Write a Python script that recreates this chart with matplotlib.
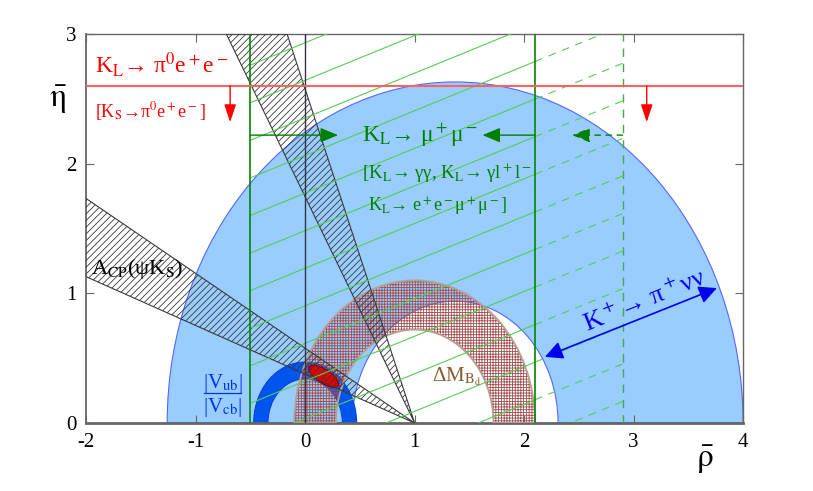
import matplotlib
matplotlib.use('Agg')
import matplotlib.pyplot as plt
from matplotlib.patches import Wedge, Polygon, Ellipse
import numpy as np

plt.rcParams['font.family'] = 'serif'
plt.rcParams['font.serif'] = ['Liberation Serif', 'DejaVu Serif']
plt.rcParams['mathtext.fontset'] = 'stix'
plt.rcParams['axes.unicode_minus'] = False
plt.rcParams['hatch.linewidth'] = 0.6

# axes
rho_range = [-2, 4]
eta_range = [0, 3]
rho_ticks = [-2, -1, 0, 1, 2, 3, 4]
eta_ticks = [0, 1, 2, 3]

# K+ -> pi+ nu nu annulus (centre on rho axis, inner/outer radius)
kpnn_center = 1.37
kpnn_r = [0.94, 2.63]
# |Vub/Vcb| annulus around (0,0)
vub_r = [0.34, 0.47]
# Delta M_Bd annulus around (1,0)
dmd_r = [0.72, 1.10]
# A_CP(psi K_S) wedge, slopes of the two edges seen from (1,0)
acp_slope = [0.376, 0.577]
# steep wedge from (1,0): rho where the edges reach eta = 3
wedge2_rho_top = [-0.72, -0.165]
# fit ellipse
fit_center = [0.17, 0.36]
fit_size = [0.30, 0.11]
fit_angle = -28

# K_L -> pi0 e+ e- bound
klpee_eta = 2.6
klpee_arrow_rho = [-0.685, 3.12]
klpee_arrow_tip = 2.32
# K_L -> mu+ mu- band
klmm_lo = -0.5
klmm_hi = 2.1
klmm_hi_dash = 2.9
klmm_arrow_eta = 2.22
klmm_arrow_tips = [0.30, 1.62, 2.44]
klmm_line_slope = 0.345
klmm_line_step = 0.84
klmm_line_start = 1.58
# K+ arrow ends
kpnn_arrow = [[2.19, 0.51], [3.76, 1.04]]

fig = plt.figure(figsize=(8.13, 4.91), dpi=100)
ax = fig.add_axes([0.106, 0.1385, 0.808, 0.7923])

# K+ -> pi+ nu nu
ax.add_patch(Wedge((kpnn_center, 0), kpnn_r[1], 0, 180, width=kpnn_r[1] - kpnn_r[0],
                   facecolor='#99ccff', edgecolor='#5566ff', lw=0.8, zorder=1))
# |Vub/Vcb|
ax.add_patch(Wedge((0, 0), vub_r[1], 0, 180, width=vub_r[1] - vub_r[0],
                   facecolor='#0055ee', edgecolor='#0044dd', lw=0.8, zorder=2))
# Delta M_Bd (checkered)
ax.add_patch(Wedge((1, 0), dmd_r[1], 0, 180, width=dmd_r[1] - dmd_r[0],
                   facecolor='none', edgecolor='#a05050', hatch='++++++', lw=0, zorder=3))
ax.add_patch(Wedge((1, 0), dmd_r[1], 0, 180, width=dmd_r[1] - dmd_r[0],
                   facecolor='none', edgecolor='#b8a090', lw=1.3, zorder=3))

# fit ellipse
ax.add_patch(Ellipse(fit_center, fit_size[0], fit_size[1], angle=fit_angle,
                     facecolor='#e00000', edgecolor='#880000', lw=0.8, zorder=4))

# A_CP wedge
L = 4.0
acp_pts = [(1, 0), (1 - L, acp_slope[0] * L), (1 - L, acp_slope[1] * L)]
ax.add_patch(Polygon(acp_pts, closed=True, facecolor='none', edgecolor='#3a3a3a',
                     hatch='/////', lw=0.8, zorder=5))
# steep wedge
w2_pts = [(1, 0), (wedge2_rho_top[0], 3), (wedge2_rho_top[1], 3)]
ax.add_patch(Polygon(w2_pts, closed=True, facecolor='none', edgecolor='#3a3a3a',
                     hatch='/////', lw=0.8, zorder=5))

# K_L -> mu mu diagonal lines
rs = np.array([klmm_lo, klmm_hi])
rd = np.array([klmm_hi, klmm_hi_dash])
for k in range(-13, 3):
    r0 = klmm_line_start + k * klmm_line_step
    ax.plot(rs, klmm_line_slope * (rs - r0), color='#55cc55', lw=0.8, zorder=6)
    ax.plot(rd, klmm_line_slope * (rd - r0), color='#55cc55', lw=0.8,
            dashes=(7, 6), zorder=6)

ax.axvline(klmm_lo, color='#008800', lw=1.2, zorder=7)
ax.axvline(klmm_hi, color='#008800', lw=1.2, zorder=7)
ax.axvline(klmm_hi_dash, color='#44aa44', lw=1.0, dashes=(6, 5), zorder=7)
ax.axvline(0, color='#333344', lw=1.0, zorder=7)

# K_L -> pi0 e e line
ax.axhline(klpee_eta, color='#ff6060', lw=1.5, zorder=8)
for r in klpee_arrow_rho:
    ax.annotate('', xy=(r, klpee_arrow_tip), xytext=(r, klpee_eta),
                arrowprops=dict(arrowstyle='-|>,head_length=0.6,head_width=0.2',
                                mutation_scale=18, color='red', lw=1.0, shrinkA=0, shrinkB=0),
                zorder=8)

# K_L -> mu mu arrows
green = '#008000'
ah = '-|>,head_length=0.6,head_width=0.25'
ax.annotate('', xy=(klmm_arrow_tips[0], klmm_arrow_eta), xytext=(klmm_lo, klmm_arrow_eta),
            arrowprops=dict(arrowstyle=ah, mutation_scale=18, color=green, lw=1.0,
                            shrinkA=0, shrinkB=0), zorder=8)
ax.annotate('', xy=(klmm_arrow_tips[1], klmm_arrow_eta), xytext=(klmm_hi, klmm_arrow_eta),
            arrowprops=dict(arrowstyle=ah, mutation_scale=18, color=green, lw=1.0,
                            shrinkA=0, shrinkB=0), zorder=8)
ax.annotate('', xy=(klmm_arrow_tips[2], klmm_arrow_eta), xytext=(klmm_hi_dash, klmm_arrow_eta),
            arrowprops=dict(arrowstyle=ah, mutation_scale=18, color=green, lw=1.0,
                            linestyle=(0, (4, 4)), shrinkA=0, shrinkB=0), zorder=8)

# K+ double arrow
ax.annotate('', xy=kpnn_arrow[0], xytext=kpnn_arrow[1],
            arrowprops=dict(arrowstyle='<|-|>,head_length=0.6,head_width=0.3',
                            mutation_scale=18, color='#0000ee', lw=1.2,
                            shrinkA=0, shrinkB=0), zorder=8)

# labels
ax.text(-1.92, 2.70, r'K$_\mathrm{L}$→ π$^0$e$^+$e$^-$', color='red', fontsize=17, zorder=9)
ax.text(-1.92, 2.36, r'[K$_\mathrm{S}$→π$^0$e$^+$e$^-$]', color='red', fontsize=13, zorder=9)
ax.text(0.52, 2.17, r'K$_\mathrm{L}$→ μ$^+$μ$^-$', color=green, fontsize=17, zorder=9)
ax.text(0.52, 1.88, r'[K$_\mathrm{L}$→ γγ, K$_\mathrm{L}$→ γl$^+$l$^-$', color=green,
        fontsize=13.5, zorder=9)
ax.text(0.575, 1.63, r'K$_\mathrm{L}$→ e$^+$e$^-$μ$^+$μ$^-$]', color=green,
        fontsize=13, zorder=9)
ax.text(-1.96, 1.15, r'A$_\mathrm{CP}$(ψK$_\mathrm{S}$)', color='black', fontsize=16, zorder=9)
ax.text(-0.755, 0.27, r'|V$_\mathrm{ub}$|', color='#0033ee', fontsize=15, ha='center', zorder=9)
ax.text(-0.755, 0.085, r'|V$_\mathrm{cb}$|', color='#0033ee', fontsize=15, ha='center', zorder=9)
ax.plot([-0.92, -0.59], [0.23, 0.23], color='#0033ee', lw=0.9, zorder=9)
ax.text(1.16, 0.32, r'ΔM$_{\mathrm{B_d}}$', color='#8c5a2e', fontsize=15, zorder=9)
ax.text(2.58, 0.70, r'K$^+$→ π$^+$νν', color='#0000ee', fontsize=19, rotation=22,
        rotation_mode='anchor', zorder=9)

ax.set_xlim(rho_range)
ax.set_ylim(eta_range)
ax.set_xticks(rho_ticks)
ax.set_xticklabels([str(t) for t in rho_ticks])
ax.set_yticks(eta_ticks)
ax.set_yticklabels([str(t) for t in eta_ticks])
ax.tick_params(direction='in', length=6, top=True, right=True, labelsize=15, pad=7,
               color='#666666')
for s in ax.spines.values():
    s.set_color('#666666')
    s.set_linewidth(1.0)
ax.spines['bottom'].set_linewidth(2.0)
ax.spines['left'].set_linewidth(1.3)

ax.text(-0.043, 0.83, r'$\bar{\mathrm{\eta}}$', transform=ax.transAxes, fontsize=24,
        ha='center', va='center')
ax.text(0.942, -0.095, r'$\bar{\mathrm{\rho}}$', transform=ax.transAxes, fontsize=24,
        ha='center', va='center')

fig.savefig('out.png', dpi=100)
